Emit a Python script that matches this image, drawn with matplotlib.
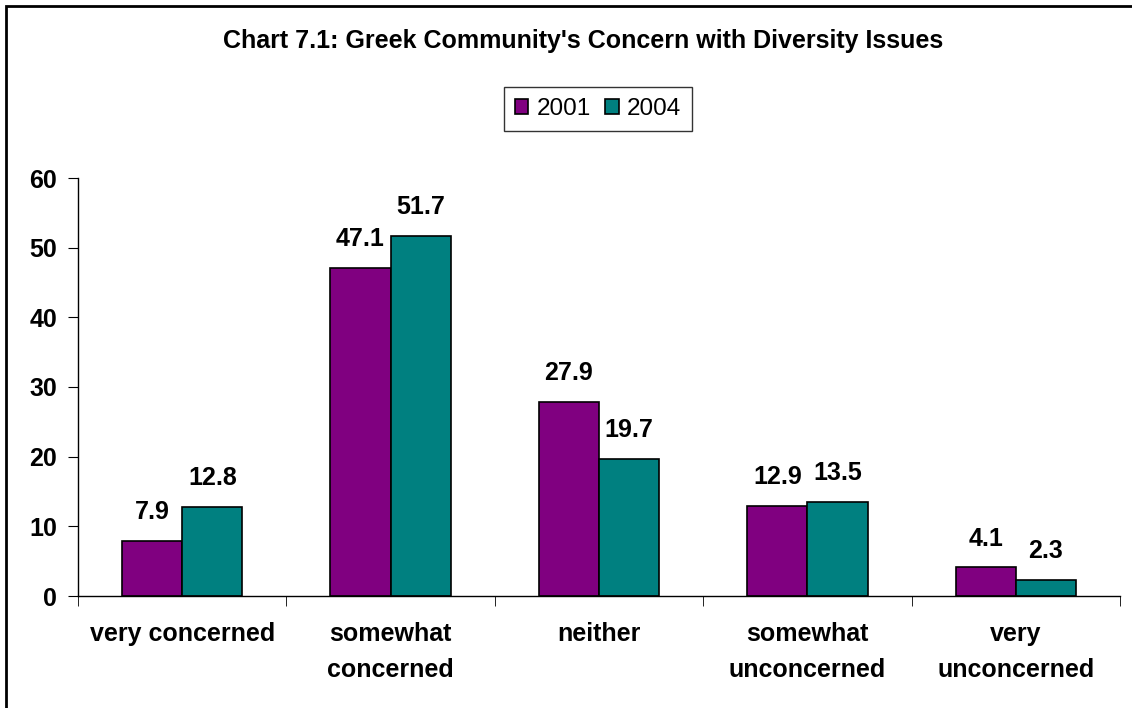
import matplotlib.pyplot as plt
from matplotlib.patches import Rectangle
import numpy as np

plt.rcParams['font.family'] = ['Liberation Sans', 'DejaVu Sans']

categories = ['very concerned', 'somewhat\nconcerned', 'neither',
              'somewhat\nunconcerned', 'very\nunconcerned']
years = ['2001', '2004']
vals_2001 = [7.9, 47.1, 27.9, 12.9, 4.1]
vals_2004 = [12.8, 51.7, 19.7, 13.5, 2.3]
colors = ['#800080', '#008080']

fig = plt.figure(figsize=(11.32, 7.08), dpi=100)
ax = fig.add_axes([78/1132, 1 - 596/708, (1120 - 78)/1132, (596 - 178)/708])

x = np.arange(len(categories))
w = 0.289
b1 = ax.bar(x - w/2, vals_2001, w, color=colors[0], edgecolor='black', linewidth=1.2, label=years[0])
b2 = ax.bar(x + w/2, vals_2004, w, color=colors[1], edgecolor='black', linewidth=1.2, label=years[1])

for bars in (b1, b2):
    for rect in bars:
        h = rect.get_height()
        ax.annotate(f'{h:.1f}', (rect.get_x() + rect.get_width()/2, h),
                    xytext=(0, 12), textcoords='offset points',
                    ha='center', va='bottom', fontsize=18, fontweight='bold')

ax.set_xlim(-0.5, len(categories) - 0.5)
ax.set_ylim(0, 60)
ax.set_yticks(range(0, 61, 10))
ax.set_xticks(x)
ax.set_xticklabels(categories, fontsize=18, fontweight='bold', linespacing=1.6)
ax.set_xticks(np.arange(-0.5, len(categories)), minor=True)
ax.tick_params(axis='x', which='major', length=0, pad=19)
ax.tick_params(axis='x', which='minor', length=7, direction='out', color='black')
ax.tick_params(axis='y', length=7, direction='out', pad=8, labelsize=18)
for lab in ax.get_yticklabels():
    lab.set_fontweight('bold')

ax.spines['top'].set_visible(False)
ax.spines['right'].set_visible(False)
ax.spines['left'].set_linewidth(1)
ax.spines['bottom'].set_linewidth(1)

fig.text(583/1132, 1 - 48/708, "Chart 7.1: Greek Community's Concern with Diversity Issues",
         ha='center', va='baseline', fontsize=18, fontweight='bold')

leg = fig.legend(handles=[b1, b2], labels=years, loc='center',
                 bbox_to_anchor=(598/1132, 1 - 109/708), ncol=2, fontsize=17.5,
                 frameon=True, fancybox=False, edgecolor='black',
                 handlelength=0.55, handleheight=0.55, handletextpad=0.35,
                 columnspacing=0.6, borderpad=0.45)
leg.get_frame().set_linewidth(1)

# outer border of the chart area
fig.patches.append(Rectangle((6/1132, -0.05), 1.1, 1 - 6/708 + 0.05,
                             transform=fig.transFigure, fill=False,
                             edgecolor='black', linewidth=2, zorder=10))

fig.savefig('out.png', dpi=100)
